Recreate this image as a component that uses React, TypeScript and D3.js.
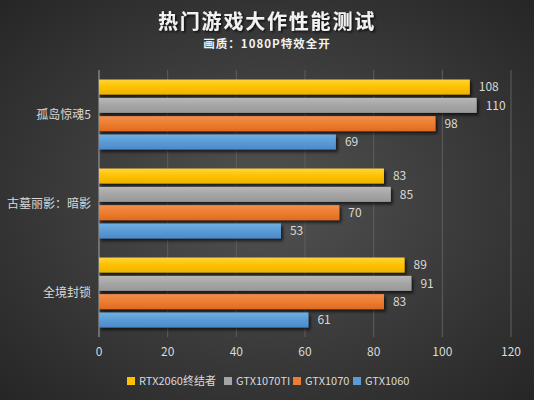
import React from 'react';
import * as d3 from 'd3';

const categories = ['孤岛惊魂5', '古墓丽影：暗影', '全境封锁'];
const seriesNames = ['RTX2060终结者', 'GTX1070TI', 'GTX1070', 'GTX1060'];
const seriesColors = ['#FFC000', '#A5A5A5', '#ED7D31', '#5B9BD5'];
const seriesLight = ['#FFD43A', '#B8B8B8', '#F48E4E', '#6FAEE3'];
const seriesDark = ['#EAB400', '#989898', '#E06A1E', '#4A8ACB'];
// values[seriesIndex][categoryIndex]
const values = [
  [108, 83, 89],
  [110, 85, 91],
  [98, 70, 83],
  [69, 53, 61],
];
const xTicks = [0, 20, 40, 60, 80, 100, 120];

const width = 534;
const height = 400;
const margin = { top: 70, right: 23, bottom: 63, left: 99 };

const App: React.FC = () => {
  const x = d3.scaleLinear()
    .domain([0, 120])
    .range([margin.left, width - margin.right]);

  const y0 = d3.scaleBand<string>()
    .domain(categories)
    .range([margin.top, height - margin.bottom])
    .paddingInner(0);

  const y1 = d3.scaleBand<string>()
    .domain(seriesNames)
    .range([0, y0.bandwidth()])
    .paddingInner(0.18)
    .paddingOuter(0.52);

  const font = '"Noto Sans CJK SC", "Noto Sans", sans-serif';

  // legend layout
  const legendX = [127, 224, 293, 353];

  return (
    <svg
      width={width}
      height={height}
      style={{ position: 'absolute', left: 0, top: 0 }}
      fontFamily={font}
    >
      <defs>
        <radialGradient id="bg" cx="50%" cy="50%" r="70%">
          <stop offset="0%" stopColor="#525252" />
          <stop offset="100%" stopColor="#262626" />
        </radialGradient>
        {seriesNames.map((s, i) => (
          <linearGradient key={s} id={`bar${i}`} x1="0" y1="0" x2="0" y2="1">
            <stop offset="0%" stopColor={seriesLight[i]} />
            <stop offset="50%" stopColor={seriesColors[i]} />
            <stop offset="100%" stopColor={seriesDark[i]} />
          </linearGradient>
        ))}
        <filter id="shadow" x="-5%" y="-30%" width="110%" height="180%">
          <feDropShadow dx="2" dy="2.5" stdDeviation="1.5" floodColor="#000" floodOpacity="0.65" />
        </filter>
        <filter id="textShadow" x="-5%" y="-30%" width="110%" height="160%">
          <feDropShadow dx="1.5" dy="1.5" stdDeviation="1" floodColor="#000" floodOpacity="0.8" />
        </filter>
      </defs>

      <rect x={0} y={0} width={width} height={height} fill="url(#bg)" />

      {/* title */}
      <text
        x={width / 2}
        y={29}
        textAnchor="middle"
        fill="#f2f2f2"
        fontSize={20}
        fontWeight="bold"
        letterSpacing={1.8}
        filter="url(#textShadow)"
      >
        热门游戏大作性能测试
      </text>
      <text
        x={width / 2}
        y={48}
        textAnchor="middle"
        fill="#f2f2f2"
        fontSize={11.5}
        fontWeight="bold"
        letterSpacing={1}
      >
        画质：1080P特效全开
      </text>

      {/* gridlines */}
      {xTicks.map(t => (
        <line
          key={t}
          x1={x(t)}
          x2={x(t)}
          y1={margin.top}
          y2={height - margin.bottom}
          stroke={t === 0 ? '#a6a6a6' : '#5e5e5e'}
          strokeWidth={1}
        />
      ))}

      {/* bars */}
      {categories.map((c, ci) => (
        <g key={c} transform={`translate(0,${y0(c)})`}>
          {seriesNames.map((s, si) => (
            <rect
              key={s}
              x={x(0)}
              y={y1(s)}
              width={x(values[si][ci]) - x(0)}
              height={y1.bandwidth()}
              fill={`url(#bar${si})`}
              filter="url(#shadow)"
            />
          ))}
          {seriesNames.map((s, si) => (
            <text
              key={s + 'l'}
              x={x(values[si][ci]) + 9}
              y={(y1(s) as number) + y1.bandwidth() / 2}
              dy="0.35em"
              fill="#d9d9d9"
              fontSize={12}
            >
              {values[si][ci]}
            </text>
          ))}
        </g>
      ))}

      {/* category labels */}
      {categories.map(c => (
        <text
          key={c}
          x={margin.left - 8}
          y={(y0(c) as number) + y0.bandwidth() / 2}
          dy="0.35em"
          textAnchor="end"
          fill="#d9d9d9"
          fontSize={12}
        >
          {c}
        </text>
      ))}

      {/* x tick labels */}
      {xTicks.map(t => (
        <text
          key={t}
          x={x(t)}
          y={352}
          dy="0.35em"
          textAnchor="middle"
          fill="#d9d9d9"
          fontSize={12}
        >
          {t}
        </text>
      ))}

      {/* legend */}
      {seriesNames.map((s, i) => (
        <g key={s} transform={`translate(${legendX[i]},381)`}>
          <rect x={0} y={-4} width={8} height={8} fill={seriesColors[i]} />
          <text x={12} y={0} dy="0.35em" fill="#d9d9d9" fontSize={11}>
            {s}
          </text>
        </g>
      ))}
    </svg>
  );
};

export default App;
